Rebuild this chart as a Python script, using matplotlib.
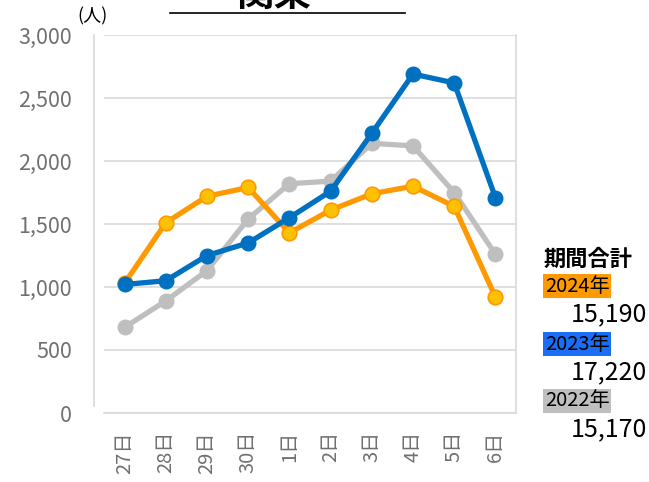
import matplotlib.pyplot as plt
from matplotlib.lines import Line2D

plt.rcParams['font.family'] = ['Noto Sans CJK JP', 'DejaVu Sans']

days = ['27日', '28日', '29日', '30日', '1日', '2日', '3日', '4日', '5日', '6日']
visitors_2024 = [1030, 1510, 1720, 1790, 1430, 1610, 1740, 1800, 1640, 920]
visitors_2023 = [1020, 1050, 1250, 1350, 1550, 1760, 2220, 2690, 2620, 1710]
visitors_2022 = [680, 890, 1130, 1540, 1820, 1840, 2140, 2120, 1750, 1260]
totals = ['15,190', '17,220', '15,170']
years = ['2024年', '2023年', '2022年']

W, H = 649, 482
fig = plt.figure(figsize=(W / 100, H / 100), dpi=100)
ax = fig.add_axes([104 / W, 1 - 413 / H, (516 - 104) / W, (413 - 35) / H])

x = list(range(len(days)))
ax.plot(x, visitors_2022, color='#BFBFBF', lw=3.8, marker='o', ms=10.5,
        mfc='#BFBFBF', mec='#BFBFBF', zorder=3)
ax.plot(x, visitors_2024, color='#FF9900', lw=3.8, marker='o', ms=10.5,
        mfc='#FFC000', mec='#FF9900', mew=1.2, zorder=4)
ax.plot(x, visitors_2023, color='#0070C0', lw=3.8, marker='o', ms=10.5,
        mfc='#0070C0', mec='#0070C0', zorder=5)

ax.set_xlim(-0.5, 9.5)
ax.set_ylim(0, 3000)
ax.set_yticks(range(0, 3001, 500))
ax.set_yticklabels([f'{v:,}' for v in range(0, 3001, 500)])
ax.set_xticks(x)
ax.set_xticklabels(days, rotation=90)
ax.grid(axis='y', color='#D9D9D9', lw=1.2)
ax.set_axisbelow(True)
ax.tick_params(axis='y', length=0, pad=23, labelsize=15.5, labelcolor='#707070')
ax.tick_params(axis='x', length=0, pad=13, labelsize=14.5, labelcolor='#707070')
for s in ['top', 'left']:
    ax.spines[s].set_visible(False)
ax.spines['bottom'].set_color('#D9D9D9')
ax.spines['bottom'].set_linewidth(1.2)
ax.spines['right'].set_color('#D9D9D9')
ax.spines['right'].set_linewidth(1.2)

# detached vertical axis line
fig.add_artist(Line2D([94 / W, 94 / W], [1 - 406 / H, 1 - 35 / H],
                      color='#D9D9D9', lw=1.2))

# title (mostly cut off) and underline
fig.text(274 / W, 1 - 14 / H, '関東', fontsize=27, fontweight='bold',
         ha='center', va='bottom')
fig.add_artist(Line2D([170 / W, 405 / W], [1 - 13 / H, 1 - 13 / H],
                      color='black', lw=1.2))

fig.text(93 / W, 1 - 16 / H, '(人)', fontsize=13, ha='center', va='center')

# totals box on right
fig.text(544 / W, 1 - 259 / H, '期間合計', fontsize=16, fontweight='bold',
         ha='left', va='center')
box_colors = ['#FF9900', '#1A6EF5', '#BFBFBF']
ys = [286, 344, 401]
for yr, tot, bc, yy in zip(years, totals, box_colors, ys):
    fig.text(545 / W, 1 - yy / H, yr, fontsize=14.5, ha='left', va='center',
             bbox=dict(boxstyle='square,pad=0.08', fc=bc, ec='none'))
    fig.text(647 / W, 1 - (yy + 28) / H, tot, fontsize=18, ha='right',
             va='center')

fig.savefig('out.png', dpi=100)
